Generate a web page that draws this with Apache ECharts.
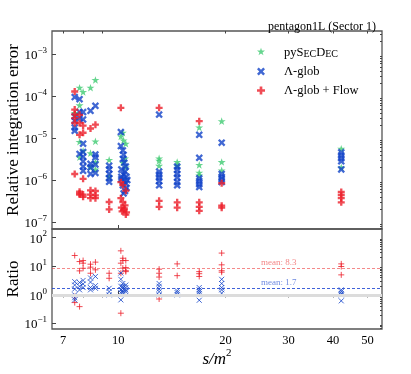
<!DOCTYPE html>
<html>
<head>
<meta charset="utf-8">
<script src="https://cdn.jsdelivr.net/npm/echarts@6/dist/echarts.min.js"></script>
<style>
html,body{margin:0;padding:0;background:#fff;}
#main{width:411px;height:374px;}
</style>
</head>
<body>
<div id="main"></div>
<script>
// s/m^2 , relative integration error
var pySecDecErr = [
	[7.79,1.6e-4],[7.97,1.27e-4],[8.36,1.6e-4],[8.63,2.45e-4],[7.79,6.1e-5],[7.55,4.0e-5],
	[7.79,8.2e-6],[8.63,8.4e-6],[8.36,4.4e-6],[8.63,1.8e-6],[7.97,5.0e-6],[8.36,2.0e-6],[8.63,2.7e-6],[7.79,3.5e-6],
	[9.43,3.05e-6],[9.43,1.2e-6],
	[10.3,1.35e-5],[10.17,1.1e-5],[10.35,8.9e-6],[10.5,7.4e-6],[10.3,2.6e-6],[10.45,3.3e-6],[10.5,2.0e-6],
	[13.02,3.3e-6],[13.02,2.9e-6],[13.02,2.2e-6],
	[14.63,2.7e-6],[14.63,2.2e-6],
	[16.87,1.8e-5],[16.87,2.3e-6],[16.87,1.5e-6],[16.87,1.3e-6],
	[19.5,2.55e-5],[19.5,2.7e-6],[19.5,1.7e-6],
	[42.2,5.6e-6],[42.2,2.0e-6]
];
var lamGlobErr = [
	[7.55,9.6e-5],[7.55,3.3e-5],[7.55,1.8e-5],[7.55,1.5e-5],[7.55,2.6e-5],
	[7.79,8.5e-5],[7.79,4.2e-5],[7.79,4.2e-6],[7.79,3.0e-5],
	[7.97,4.2e-5],[7.97,2.8e-5],[7.97,7.4e-6],[7.97,4.7e-6],[7.97,3.6e-6],[7.97,2.8e-6],[7.97,2.1e-6],[7.97,1.66e-6],
	[8.36,4.5e-5],[8.36,2.45e-6],[8.36,1.4e-6],[8.36,2.0e-6],
	[8.63,5.9e-5],[8.63,4.1e-6],[8.63,3.5e-6],[8.63,2.35e-6],[8.63,1.48e-6],
	[9.43,2.2e-6],[9.43,1.8e-6],[9.43,1.4e-6],[9.43,1.1e-6],[9.43,9.1e-7],
	[10.17,1.4e-5],[10.17,6.5e-6],[10.3,5.1e-6],[10.35,4.0e-6],[10.3,3.2e-6],[10.4,2.6e-6],[10.5,2.1e-6],
	[10.2,1.8e-6],[10.45,1.6e-6],[10.35,1.35e-6],[10.55,1.2e-6],[10.2,1.05e-6],[10.4,9.5e-7],[10.5,8.3e-7],
	[10.3,7.5e-7],[10.55,6.5e-7],[10.45,5.5e-7],[10.2,1.2e-6],[10.6,1.0e-6],[10.35,4.8e-7],
	[13.02,3.65e-5],[13.02,1.6e-6],[13.02,1.35e-6],[13.02,1.15e-6],[13.02,9.5e-7],[13.02,7.5e-7],
	[14.63,2.1e-6],[14.63,1.75e-6],[14.63,1.4e-6],[14.63,1.15e-6],[14.63,9e-7],[14.63,7.5e-7],
	[16.87,1.2e-5],[16.87,3.4e-6],[16.87,1.1e-6],[16.87,9.5e-7],[16.87,8e-7],[16.87,6.8e-7],
	[19.5,7.8e-6],[19.5,1.4e-6],[19.5,1.2e-6],[19.5,1.05e-6],[19.5,9e-7],
	[42.2,4.6e-6],[42.2,3.9e-6],[42.2,3.3e-6],[42.2,2.8e-6],[42.2,1.8e-6]
];
var lamFlowErr = [
	[7.55,1.3e-4],[7.55,4.8e-5],[7.55,3.7e-5],[7.55,2.3e-5],[7.55,1.4e-6],[7.55,3.0e-5],
	[7.79,3.6e-5],[7.79,2.3e-5],[7.79,1.2e-5],[7.79,5.3e-7],[7.79,4.5e-7],[7.79,4.8e-7],
	[7.97,2.0e-5],[7.97,1.35e-5],[7.97,1.07e-6],[7.97,4.0e-7],[7.97,4.5e-7],
	[8.36,1.7e-5],[8.36,5.7e-7],[8.36,3.7e-7],[8.36,4.5e-7],
	[8.63,2.1e-5],[8.63,5.5e-7],[8.63,4.3e-7],[8.63,3.7e-7],
	[9.43,3.0e-7],[9.43,2.0e-7],
	[10.17,5.3e-5],[10.17,8.9e-7],[10.3,7.6e-7],[10.5,5.6e-7],[10.17,3.7e-7],[10.3,3.0e-7],[10.45,2.5e-7],
	[10.2,2.2e-7],[10.35,1.9e-7],[10.55,1.7e-7],[10.5,1.5e-7],[10.25,1.8e-7],[10.4,2.1e-7],
	[13.02,5.3e-5],[13.02,3.2e-7],[13.02,2.3e-7],
	[14.63,2.95e-7],[14.63,2.2e-7],
	[16.87,2.55e-5],[16.87,2.95e-7],[16.87,2.3e-7],[16.87,1.85e-7],
	[19.5,8.4e-7],[19.5,2.45e-7],[19.5,2.2e-7],
	[42.2,5.2e-7],[42.2,4.4e-7],[42.2,3.7e-7],[42.2,2.95e-7]
];
// ratios
var ratioGlob = [
	[7.55,2.9],[7.55,2.2],[7.55,1.6],[7.55,1.0],[7.55,0.8],[7.55,0.67],
	[7.79,2.7],[7.79,2.0],[7.79,1.5],
	[7.97,3.2],[7.97,2.4],[7.97,1.8],
	[8.36,3.9],[8.36,2.8],[8.36,1.8],[8.36,1.5],
	[8.63,4.4],[8.63,2.1],[8.63,1.7],
	[9.43,1.7],[9.43,1.3],[9.43,1.0],
	[10.17,5.8],[10.17,3.5],[10.17,2.0],[10.17,1.5],[10.17,1.2],[10.17,0.67],
	[10.3,2.5],[10.3,2.0],[10.3,1.7],[10.3,1.4],[10.3,1.2],
	[10.5,2.2],[10.5,1.8],[10.5,1.5],[10.5,1.3],
	[13.02,2.5],[13.02,2.0],[13.02,1.6],[13.02,1.3],[13.02,1.0],
	[14.63,1.4],[14.63,1.2],[14.63,1.0],
	[16.87,1.8],[16.87,1.5],[16.87,1.3],[16.87,1.1],[16.87,0.65],
	[19.5,3.5],[19.5,2.5],[19.5,1.8],[19.5,1.5],[19.5,1.15],
	[42.2,1.5],[42.2,1.3],[42.2,1.1],[42.2,1.0],[42.2,0.62]
];
var ratioFlow = [
	[7.55,23.7],[7.55,0.87],[7.55,0.54],
	[7.79,14.6],[7.79,6.9],[7.79,0.39],
	[7.97,15.8],[7.97,12.8],[7.97,8.5],
	[8.36,11.8],[8.36,9.3],[8.36,5.7],
	[8.63,13.9],[8.63,7.5],
	[9.43,5.7],[9.43,3.8],
	[10.17,34.5],[10.17,12.8],[10.17,5.7],[10.17,0.23],
	[10.3,19],[10.3,8.6],[10.3,15.8],
	[10.5,15.8],[10.5,6.5],[10.5,9],[10.5,7],
	[13.02,7.9],[13.02,5.7],[13.02,4.2],[13.02,0.72],
	[14.63,12.1],[14.63,4.7],
	[16.87,6.5],[16.87,5.5],[16.87,4.4],
	[19.5,28.8],[19.5,11.2],[19.5,6.2],[19.5,7],
	[42.2,12.1],[42.2,9.8],[42.2,5.0]
];
var meanGlob = 1.7;
var meanFlow = 8.3;
var meanLabelS = 28.2;

var xMajorTicks = [10];
var xMinorTicks = [7,8,9,20,30,40,50];
var xLabelVals = [7,10,20,30,40,50];
var errExps = [-7,-6,-5,-4,-3];
var ratioExps = [-1,0,1,2];

var FONT = 'Liberation Serif';
var GREEN = '#3fcb72', BLUE = '#1142c8', RED = '#ec1f2a';

var STAR = 'path://M0,-1L0.2245,-0.309L0.951,-0.309L0.363,0.118L0.588,0.809L0,0.382L-0.588,0.809L-0.363,0.118L-0.951,-0.309L-0.2245,-0.309Z';
var FAT_X = 'path://M-3,-1.7L-1.7,-3L0,-1.3L1.7,-3L3,-1.7L1.3,0L3,1.7L1.7,3L0,1.3L-1.7,3L-3,1.7L-1.3,0Z';
var FAT_P = 'path://M-1,-3H1V-1H3V1H1V3H-1V1H-3V-1H-1Z';
var THIN_PLUS = 'path://M0,-1L0,1M-1,0L1,0';
var THIN_X = 'path://M-1,-1L1,1M-1,1L1,-1';

function lg(pts){
	return pts.map(function(p){ return [Math.log10(p[0]), Math.log10(p[1])]; });
}
function lgList(a){ return a.map(function(v){ return Math.log10(v); }); }
function minorOf(exps, lo, hi){
	var out = [];
	for (var e = exps[0]-1; e <= exps[exps.length-1]; e++) {
		for (var k = 2; k <= 9; k++) {
			var v = e + Math.log10(k);
			if (v > lo && v < hi) out.push(v);
		}
	}
	return out;
}
function powLabel(v){
	var e = Math.round(v);
	return '{b|10}{s|' + (e < 0 ? '\u2212' + (-e) : e) + '}';
}
var powRich = {
	b: {fontFamily: FONT, fontSize: 13, color: '#000', verticalAlign: 'bottom', lineHeight: 16},
	s: {fontFamily: FONT, fontSize: 9, color: '#000', verticalAlign: 'top', lineHeight: 16}
};

var xMin = Math.log10(6.52), xMax = Math.log10(54.9);
var eMin = -7.167, eMax = -2.443;
var rMin = -1.19, rMax = 2.30;

var chart = echarts.init(document.getElementById('main'));

function xAx(grid, ticks, len, labels){
	return {
		type: 'value', gridIndex: grid, min: xMin, max: xMax,
		axisLine: {show: false}, splitLine: {show: false},
		axisTick: {show: true, inside: true, length: len, customValues: lgList(ticks), lineStyle: {color: '#444', width: 1}},
		axisLabel: labels ? {
			show: true, customValues: lgList(labels), margin: 5,
			fontFamily: FONT, fontSize: 12.5, color: '#000',
			formatter: function(v){ return '' + Math.round(Math.pow(10, v)); }
		} : {show: false}
	};
}
function yAx(grid, lo, hi, ticks, len, labels, name, gap){
	return {
		type: 'value', gridIndex: grid, min: lo, max: hi,
		axisLine: {show: false}, splitLine: {show: false},
		axisTick: {show: true, inside: true, length: len, customValues: ticks, lineStyle: {color: '#444', width: 1}},
		axisLabel: labels ? {
			show: true, customValues: labels, margin: 5,
			formatter: powLabel, rich: powRich
		} : {show: false},
		name: name || '', nameLocation: 'middle', nameGap: gap || 0, nameMoveOverlap: false,
		nameTextStyle: {fontFamily: FONT, fontSize: 17, color: '#000'}
	};
}

var option = {
	animation: false,
	title: {
		text: 'pentagon1L (Sector 1)', right: 30, top: 16,
		textStyle: {fontFamily: FONT, fontSize: 12, fontWeight: 'normal', color: '#000'}
	},
	legend: {
		orient: 'vertical', left: 252, top: 41, itemWidth: 8, itemHeight: 8, itemGap: 6,
		data: ['pySecDec', '\u039b-glob', '\u039b-glob + Flow'],
		textStyle: {fontFamily: FONT, fontSize: 12.5, color: '#000', padding: [0,0,0,14],
			rich: {
				n: {fontFamily: FONT, fontSize: 12.5, color: '#000', verticalAlign: 'bottom', lineHeight: 15},
				c: {fontFamily: FONT, fontSize: 10, color: '#000', verticalAlign: 'bottom', lineHeight: 14.6}
			}
		},
		formatter: function(name){
			if (name === 'pySecDec') return '{n|py}{n|S}{c|EC}{n|D}{c|EC}';
			return name;
		}
	},
	grid: [
		{left: 52, top: 31, width: 330, height: 198, show: true, borderColor: '#555', borderWidth: 1.3, outerBoundsMode: 'none', containLabel: false},
		{left: 52, top: 229, width: 330, height: 100, show: true, borderColor: '#555', borderWidth: 1.3, outerBoundsMode: 'none', containLabel: false}
	],
	xAxis: [
		xAx(0, xMajorTicks, 4, null),
		xAx(0, xMinorTicks, 2.5, null),
		Object.assign(xAx(1, xMajorTicks, 4, xLabelVals), {
			name: '{i|s}{i|/m}{s|2}', nameLocation: 'middle', nameGap: 19, nameMoveOverlap: false,
			nameTextStyle: {rich: {
				i: {fontFamily: FONT, fontSize: 17, fontStyle: 'italic', color: '#000', verticalAlign: 'bottom', lineHeight: 20},
				s: {fontFamily: FONT, fontSize: 11, color: '#000', verticalAlign: 'top', lineHeight: 20}
			}}
		}),
		xAx(1, xMinorTicks, 2.5, null)
	],
	yAxis: [
		yAx(0, eMin, eMax, errExps, 4, errExps, 'Relative integration error', 30),
		yAx(0, eMin, eMax, minorOf(errExps, eMin, eMax), 2, null),
		yAx(1, rMin, rMax, ratioExps, 4, ratioExps, 'Ratio', 30),
		yAx(1, rMin, rMax, minorOf(ratioExps, rMin, rMax), 2, null)
	],
	series: [
		{
			name: 'pySecDec', type: 'scatter', xAxisIndex: 0, yAxisIndex: 0, z: 3,
			symbol: STAR, symbolSize: 8, symbolKeepAspect: true,
			itemStyle: {color: GREEN}, data: lg(pySecDecErr)
		},
		{
			name: '\u039b-glob', type: 'scatter', xAxisIndex: 0, yAxisIndex: 0, z: 4,
			symbol: FAT_X, symbolSize: 7.5, symbolKeepAspect: true,
			itemStyle: {color: BLUE}, data: lg(lamGlobErr)
		},
		{
			name: '\u039b-glob + Flow', type: 'scatter', xAxisIndex: 0, yAxisIndex: 0, z: 5,
			symbol: FAT_P, symbolSize: 7, symbolKeepAspect: true,
			itemStyle: {color: RED}, data: lg(lamFlowErr)
		},
		{
			type: 'scatter', xAxisIndex: 2, yAxisIndex: 2, z: 1, data: [], silent: true,
			markLine: {silent: true, symbol: 'none', label: {show: false},
				lineStyle: {color: '#dcdcdc', width: 3, type: 'solid'},
				data: [{yAxis: 0}]}
		},
		{
			type: 'scatter', xAxisIndex: 2, yAxisIndex: 2, z: 3,
			symbol: THIN_PLUS, symbolSize: 6,
			itemStyle: {color: 'rgba(0,0,0,0)', borderColor: RED, borderWidth: 1},
			data: lg(ratioFlow),
			markLine: {silent: true, symbol: 'none', label: {show: false},
				lineStyle: {color: 'rgba(236,60,60,0.6)', width: 1.2, type: [3, 2]},
				data: [{yAxis: Math.log10(meanFlow)}]}
		},
		{
			type: 'scatter', xAxisIndex: 2, yAxisIndex: 2, z: 4,
			symbol: THIN_X, symbolSize: 5,
			itemStyle: {color: 'rgba(0,0,0,0)', borderColor: BLUE, borderWidth: 1},
			data: lg(ratioGlob),
			markLine: {silent: true, symbol: 'none', label: {show: false},
				lineStyle: {color: 'rgba(30,70,210,0.85)', width: 1, type: [3, 2]},
				data: [{yAxis: Math.log10(meanGlob)}]}
		},
		{
			type: 'scatter', xAxisIndex: 2, yAxisIndex: 2, z: 6, symbolSize: 0, silent: true,
			data: [[Math.log10(meanLabelS), Math.log10(meanFlow)]],
			label: {show: true, position: 'top', distance: 1, formatter: 'mean: ' + meanFlow,
				fontFamily: FONT, fontSize: 9, color: 'rgba(236,60,60,0.8)'}
		},
		{
			type: 'scatter', xAxisIndex: 2, yAxisIndex: 2, z: 6, symbolSize: 0, silent: true,
			data: [[Math.log10(meanLabelS), Math.log10(meanGlob)]],
			label: {show: true, position: 'top', distance: 1, formatter: 'mean: ' + meanGlob,
				fontFamily: FONT, fontSize: 9, color: 'rgba(40,80,210,0.85)'}
		}
	]
};
chart.setOption(option);
</script>
</body>
</html>
